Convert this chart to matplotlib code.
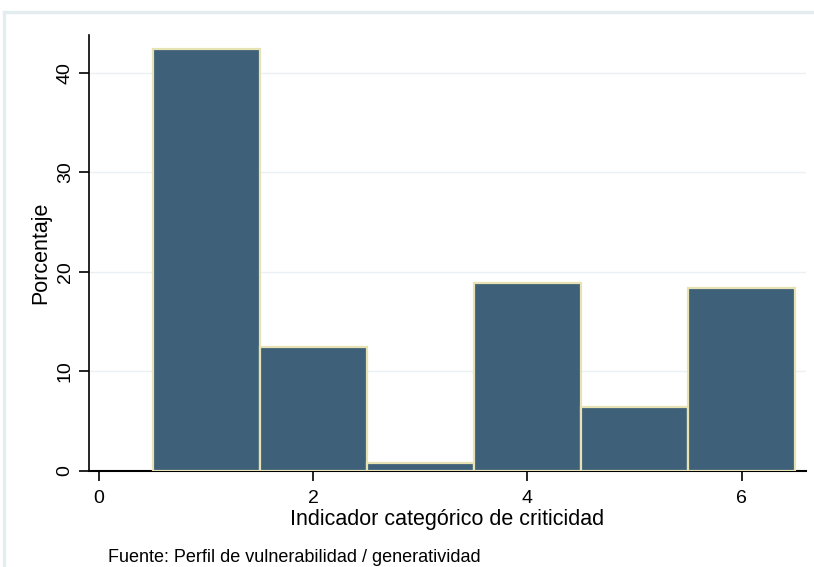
import matplotlib
matplotlib.use("Agg")
import matplotlib.pyplot as plt
from matplotlib.patches import Rectangle

categories = [1, 2, 3, 4, 5, 6]
percentages = [42.4, 12.5, 0.8, 18.9, 6.4, 18.4]
xticks = [0, 2, 4, 6]
yticks = [0, 10, 20, 30, 40]

plt.rcParams['font.family'] = ['Liberation Sans', 'DejaVu Sans']

fig = plt.figure(figsize=(8.14, 5.67), dpi=100)
fig.patch.set_facecolor('white')
# outer light frame
fig.patches.append(Rectangle((4/814, -0.1), 1.2, 1 - 12/567 + 0.1, transform=fig.transFigure,
                             fill=False, edgecolor='#e3ecef', linewidth=2.5))

ax = fig.add_axes([89/814, 1 - 471/567, (806 - 89)/814, (471 - 35)/567])
ax.bar(categories, percentages, width=1.0, color='#3e6079', edgecolor='#e6e2b4', linewidth=1.6, zorder=3)

ax.set_xlim(-0.093, 6.6)
ax.set_ylim(0, 43.8)
ax.set_xticks(xticks)
ax.set_yticks(yticks)
ax.set_yticklabels([str(v) for v in yticks], rotation=90, va='center')
ax.tick_params(axis='both', length=7, width=1.2, labelsize=14, colors='black')
ax.tick_params(axis='x', pad=7)
ax.tick_params(axis='y', pad=4)
for v in yticks[1:]:
    ax.axhline(v, color='#eaf0f4', linewidth=1, zorder=1)

for s in ['top', 'right']:
    ax.spines[s].set_visible(False)
ax.spines['left'].set_linewidth(1.2)
ax.spines['bottom'].set_linewidth(1.5)

ax.set_ylabel('Porcentaje', fontsize=15.5, labelpad=4)
ax.set_xlabel('Indicador categórico de criticidad', fontsize=15.5, labelpad=1)

fig.text(108/814, 1 - 557/567, 'Fuente: Perfil de vulnerabilidad / generatividad', fontsize=13, va='center', ha='left')

fig.savefig('out.png', dpi=100)
